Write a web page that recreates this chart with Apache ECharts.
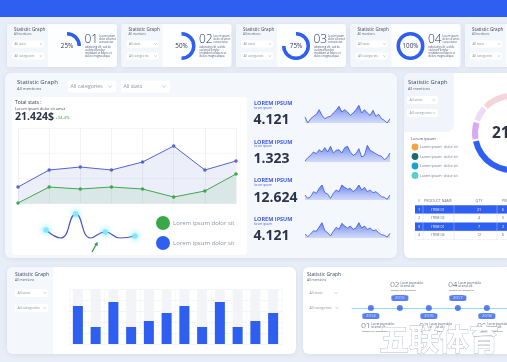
<!DOCTYPE html>
<html><head><meta charset="utf-8">
<script src="https://cdn.jsdelivr.net/npm/echarts@6/dist/echarts.min.js"></script>
<style>html,body{margin:0;padding:0;background:#e8eef7;overflow:hidden}#c{width:507px;height:362px}</style>
</head><body><div id="c"></div>
<script>
// ---------- data ----------
const cardPercents = [25, 50, 75, 100];
const cardNumbers = ['01', '02', '03', '04'];
const lineCategories = ['A', 'B', 'C', 'D', 'E', 'F', 'G', 'H'];
const blueValues = [16, 33, 36, 33, 41, 57, 33, 42];
const greenValues = [0, 16, 14, 16, 14, 6, 12, 29];
const waveValues = [10, 2, 26, 2, 8, 2, 4];
const waveMarked = [true, false, true, false, true, false, true];
const legendNames = ['Lorem ipsum dolor sit', 'Lorem ipsum dolor sit'];
const sparkTitles = ['4.121', '1.323', '12.624', '4.121'];
const spark1 = [18,0,13,20,26,40,23,13,18,20,30,38,50,33,40,33,23,30,40,53,30,40,30,23,38,20,26,13,8,0,13];
const spark2 = [3,13,20,30,25,37,30,43,30,47,27,35,37,27,43,47,30,20,25,40,15,20,50,35,30,25,20,17,7,13,27];
const spark3 = [15,5,10,25,20,35,45,22,18,5,20,30,25,45,38,32,35,25,32,45,30,38,25,30,22,25,18,10,8,2,15];
const spark4 = [12,4,12,22,20,33,46,22,16,6,20,32,26,44,36,30,36,26,30,46,30,36,26,30,22,24,16,10,8,3,14];
const donutValues = [28, 24, 120, 174];
const donutColors = ['#d8aaf3', '#ecdcf7', '#f4d5dc', '#2f5ff0'];
const donutCenterText = '21';
const listColors = ['#f4a43c', '#1b6a6e', '#19a2cf', '#58cfc7'];
const listLabels = ['Lorem ipsum · dolor sit', 'Lorem ipsum · dolor sit', 'Lorem ipsum · dolor sit', 'Lorem ipsum · dolor sit'];
const tableHeader = ['#', 'PRODUCT NAME', 'QTY', 'PRICE'];
const tableRows = [['1', 'ITEM 01', '21', '6'], ['2', 'ITEM 02', '4', '5'], ['3', 'ITEM 01', '7', '2'], ['4', 'ITEM 04', '12', '6']];
const barCategories = ['1','2','3','4','5','6','7','8','9','10','11','12'];
const barValues = [38, 17, 42, 17, 23, 31, 38, 17, 42, 17, 23, 31];
const barMax = 55;
const years = [2014, 2015, 2016, 2017, 2018];
const milestones = ['01', '02', '03', '04', '01'];

// ---------- helpers ----------
const FONT = 'Open Sans';
const BLUE = '#2f5ff0';
const G = [];
const SH = {shadowBlur: 5, shadowColor: 'rgba(60,80,140,0.10)', shadowOffsetY: 1};
function rect(x, y, w, h, fill, r, extra) {
  G.push({type: 'rect', silent: true, shape: {x, y, width: w, height: h, r: r || 0}, style: Object.assign({fill}, extra || {})});
}
function txtEl(x, y, s, size, color, o) {
  o = o || {};
  return {type: 'text', x, y, silent: true, z: o.z || 0, style: {
    text: s, fontSize: size, fill: color, fontFamily: o.family || FONT, fontWeight: o.weight || 'normal',
    align: o.align || 'left', verticalAlign: o.va || 'middle', lineHeight: o.lh, stroke: o.stroke, lineWidth: o.lw || 0}};
}
function txt(x, y, s, size, color, o) { G.push(txtEl(x, y, s, size, color, o)); }
function chevron(cx, cy, s, color) {
  G.push({type: 'polyline', silent: true, shape: {points: [[cx - s, cy - s / 2], [cx, cy + s / 2], [cx + s, cy - s / 2]]},
    style: {stroke: color, lineWidth: 0.6, fill: null}});
}
function line(x1, y1, x2, y2, color, w) {
  G.push({type: 'line', silent: true, shape: {x1, y1, x2, y2}, style: {stroke: color, lineWidth: w || 0.5}});
}
function dropdown(x, y, w, h, label, size, chevX) {
  rect(x, y, w, h, '#ffffff', 2);
  txt(x + 2.5, y + h / 2, label, size, '#8a93a6');
  chevron(chevX, y + h / 2, size * 0.35, '#9aa2b3');
}

// ---------- static panels ----------
rect(0, 0, 507, 17, BLUE);

const cardX = [7, 121.5, 236, 350.5, 465];
const tinyA = 'Lorem ipsum\ndolor sit amet\nconsectetur';
const tinyB = 'adipiscing elit, sed do\neiusmod tempor\nincididunt ut labore et\ndolore magna aliqua';
cardX.forEach((x0, i) => {
  rect(x0, 24, 110, 43, '#fdfeff', 3, SH);
  rect(x0, 24, 41, 43, '#f3f6fb', [3, 0, 0, 3]);
  txt(x0 + 7, 29.5, 'Statistic Graph', 4.6, '#3b4660');
  txt(x0 + 7, 34, 'All mentions', 3, '#5a6478');
  dropdown(x0 + 5, 40.5, 32, 7, 'All stats', 3.2, x0 + 34);
  dropdown(x0 + 5, 52.5, 32, 7, 'All categories', 3.2, x0 + 34);
  if (i < 4) {
    txt(x0 + 77.5, 40, cardNumbers[i], 12, '#2b3550', {weight: 300});
    txt(x0 + 92, 39, tinyA, 2.6, '#4a5570', {lh: 2.9});
    txt(x0 + 78, 51.5, tinyB, 2.6, '#4a5570', {lh: 3});
  }
});

// main panel
rect(5, 73, 392, 185, '#f4f7fc', 6, SH);
rect(12, 97, 235, 158, '#ffffff', 4);
txt(17, 82, 'Statistic Graph', 6, '#3a4560');
txt(17, 89, 'All mentions', 4.2, '#5a6478');
dropdown(68, 80.5, 48, 12, 'All categories', 5.2, 110);
dropdown(121, 80.5, 49, 12, 'All stats', 5.2, 164);
txt(15, 103, 'Total stats :', 5, '#2f3648');
txt(15, 109, 'Lorem ipsum dolor sit amet', 3.9, '#3f475a');
txt(15, 117.5, '21.424$', 10.5, '#2b3448', {weight: 'bold'});
txt(55, 118, '+34.4%', 4.3, '#3aa64a');

// legend circles
const legendColors = ['#3aa84a', BLUE];
legendNames.forEach((n, i) => {
  G.push({type: 'circle', silent: true, shape: {cx: 163, cy: 223 + i * 20, r: 7}, style: {fill: legendColors[i]}});
  txt(173, 223 + i * 20, n, 6, '#8a93a6');
});
// green arrow
G.push({type: 'polyline', silent: true, shape: {points: [[92, 252], [95.8, 245.3]]}, style: {stroke: '#2a9a4a', lineWidth: 1.3, fill: null}});
G.push({type: 'polygon', silent: true, shape: {points: [[97.7, 241.8], [94.2, 244.3], [97.5, 246.2]]}, style: {fill: '#2a9a4a'}});

// sparkline texts
sparkTitles.forEach((t, i) => {
  const y = 103.3 + i * 38.7;
  txt(254, y, 'LOREM IPSUM', 5.5, '#3d5ae6', {weight: 'bold'});
  txt(254, y + 4.5, 'lorem ipsum', 3, '#3d5ae6');
  txt(253.5, y + 17, t, 14, '#2b3448', {weight: 'bold'});
});

// right panel
rect(404, 73, 110, 185, '#ffffff', 6, SH);
rect(404, 73, 50, 59, '#f1f4fa', [6, 0, 8, 0]);
txt(408, 82, 'Statistic Graph', 5.8, '#3a4560');
txt(408, 88.5, 'All mentions', 3.8, '#5a6478');
dropdown(407, 96, 31, 8, 'All stats', 3.6, 434);
dropdown(407, 109, 31, 8, 'All categories', 3.6, 434);
txt(492, 133.5, donutCenterText, 15.5, '#2b3448', {weight: 'bold'});
txt(411, 139, 'Lorem ipsum', 4, '#3f475a');
listLabels.forEach((l, i) => {
  const y = 147 + i * 9.5;
  G.push({type: 'circle', silent: true, shape: {cx: 415, cy: y, r: 3.4}, style: {fill: listColors[i]}});
  txt(420, y, l, 3.5, '#6a7386');
});
// table
const colX = [419, 438, 479, 502];
tableHeader.forEach((h, j) => txt(colX[j], 201, h, 3.6, '#6b7386', {align: j === 3 ? 'left' : 'center'}));
tableRows.forEach((r, i) => {
  const y = 205.3 + i * 8.6;
  const blueRow = i % 2 === 0;
  rect(415, y, 95, 8.4, blueRow ? BLUE : '#ffffff', 0, blueRow ? {} : {stroke: '#e3e7ee', lineWidth: 0.5});
  r.forEach((c, j) => txt(colX[j], y + 4.3, c, 3.6, blueRow ? '#ffffff' : '#5a6478', {align: j === 3 ? 'left' : 'center'}));
});
[423, 454, 497].forEach(x => line(x, 205.3, x, 239.7, 'rgba(205,212,226,0.8)', 0.5));

// bottom-left panel
rect(7, 267, 289, 87, '#ffffff', 6, SH);
rect(7, 267, 46, 87, '#f4f7fb', [6, 0, 0, 6]);
txt(15, 275, 'Statistic Graph', 5, '#3a4560');
txt(15, 280.5, 'All mentions', 3.3, '#5a6478');
dropdown(15, 289, 33, 8, 'All stats', 3.6, 45);
dropdown(15, 304, 33, 8, 'All categories', 3.6, 45);

// bottom-right panel
rect(303, 267, 210, 87, '#ffffff', 6, SH);
txt(307, 275, 'Statistic Graph', 5, '#3a4560');
txt(307, 280.5, 'All mentions', 3.3, '#5a6478');
dropdown(307, 289, 33, 8, 'All stats', 3.6, 336);
dropdown(307, 304, 33, 8, 'All categories', 3.6, 337);

// ---------- charts ----------
const sparks = [spark1, spark2, spark3, spark4];
const sparkTops = [103, 142, 180, 218];
const TL_LEFT = 352, TL_WIDTH = 155, TL_MIN = 2013.35, TL_STEP = 29;
const grids = [
  {left: 18, top: 128, width: 218, height: 75},
  ...sparkTops.map(t => ({left: 305, top: t, width: 85, height: 20})),
  {left: 46, top: 212, width: 89, height: 28},
  {left: 69, top: 289, width: 213, height: 55},
  {left: TL_LEFT, top: 270, width: TL_WIDTH, height: 92}
];
const hid = {show: false};
const xAxes = [
  {gridIndex: 0, type: 'category', data: lineCategories, boundaryGap: false,
   axisLine: {lineStyle: {color: '#e3e7ee'}}, axisTick: hid, axisLabel: hid,
   splitLine: {show: true, lineStyle: {color: '#e6e9ef', width: 0.6}}},
  ...sparks.map((s, i) => ({gridIndex: i + 1, type: 'category', data: s.map((_, k) => k), boundaryGap: false, show: false})),
  {gridIndex: 5, type: 'category', data: waveValues.map((_, k) => k), boundaryGap: false, show: false},
  {gridIndex: 6, type: 'category', data: barCategories, axisLine: hid, axisTick: hid, axisLabel: hid,
   splitLine: {show: true, lineStyle: {color: '#f1f3f6', width: 0.6}}},
  {gridIndex: 7, type: 'value', min: TL_MIN, max: TL_MIN + TL_WIDTH / TL_STEP,
   axisLine: {show: true, onZero: true, lineStyle: {color: '#93d9ef', width: 1.2}},
   axisTick: hid, axisLabel: hid, splitLine: hid}
];
const yAxes = [
  {gridIndex: 0, type: 'value', min: 0, max: 75, interval: 25, axisLine: hid, axisTick: hid, axisLabel: hid,
   splitLine: {lineStyle: {color: '#f0f2f6', width: 0.6}}},
  ...sparks.map((s, i) => ({gridIndex: i + 1, type: 'value', min: 0, max: 60, show: false})),
  {gridIndex: 5, type: 'value', min: 0, max: 28, show: false},
  {gridIndex: 6, type: 'value', min: 0, max: barMax, interval: 11, axisLine: hid, axisTick: hid, axisLabel: hid,
   splitLine: {lineStyle: {color: '#eceff3', width: 0.6}}},
  {gridIndex: 7, type: 'value', min: -54, max: 38, show: false}
];

const series = [];
// card donuts
cardPercents.forEach((p, i) => {
  series.push({type: 'pie', silent: true, center: [cardX[i] + 60, 46], radius: [10.5, 14], startAngle: 90,
    label: {show: false}, labelLine: {show: false}, emphasis: {disabled: true},
    data: [
      {value: p, itemStyle: {color: BLUE},
       label: {show: true, position: 'center', formatter: p + '%', fontSize: 6.3, color: '#2b3550', fontFamily: FONT}},
      {value: 100 - p, itemStyle: {color: 'rgba(0,0,0,0)'}}
    ]});
});
// line chart
series.push({type: 'line', xAxisIndex: 0, yAxisIndex: 0, data: blueValues, symbol: 'circle', symbolSize: 3.5,
  lineStyle: {color: '#5563cf', width: 1}, itemStyle: {color: '#5563cf'}, areaStyle: {color: 'rgba(96,112,214,0.17)'}, silent: true});
series.push({type: 'line', xAxisIndex: 0, yAxisIndex: 0, data: greenValues, symbol: 'circle', symbolSize: 3.5,
  lineStyle: {color: '#40a74f', width: 1}, itemStyle: {color: '#40a74f'}, areaStyle: {color: 'rgba(110,195,130,0.22)'}, silent: true});
// sparklines
sparks.forEach((s, i) => {
  series.push({type: 'line', xAxisIndex: i + 1, yAxisIndex: i + 1, data: s, symbol: 'none', silent: true,
    lineStyle: {color: '#3a55e0', width: 0.8},
    areaStyle: {color: new echarts.graphic.LinearGradient(0, 0, 0, 1, [
      {offset: 0, color: 'rgba(48,78,232,1)'}, {offset: 1, color: 'rgba(140,164,246,0.5)'}])}});
});
// wave
series.push({type: 'line', xAxisIndex: 5, yAxisIndex: 5, data: waveValues, smooth: 0.5, silent: true, showAllSymbol: true,
  symbol: 'circle', symbolSize: (v, p) => waveMarked[p.dataIndex] ? 5.5 : 0,
  lineStyle: {color: '#4a55c0', width: 1.2},
  itemStyle: {color: '#7fe9f9', shadowBlur: 6, shadowColor: '#36d6ef'}});
// bars
series.push({type: 'bar', xAxisIndex: 6, yAxisIndex: 6, data: barValues, barWidth: 10, silent: true,
  showBackground: true, backgroundStyle: {color: '#f3f4f7'}, itemStyle: {color: BLUE}});
// big donut
series.push({type: 'pie', silent: true, center: [512, 133], radius: [34, 40], startAngle: 191, padAngle: 3.5,
  label: {show: false}, labelLine: {show: false}, emphasis: {disabled: true},
  data: donutValues.map((v, i) => ({value: v, itemStyle: {color: donutColors[i]}}))});
// timeline
series.push({type: 'scatter', xAxisIndex: 7, yAxisIndex: 7, silent: true, symbolSize: 6, itemStyle: {color: BLUE}, z: 4,
  data: years.concat([2019]).map(y => [y, 0]), clip: false});
series.push({type: 'scatter', xAxisIndex: 7, yAxisIndex: 7, silent: true, symbol: 'roundRect', symbolSize: [17, 6],
  itemStyle: {color: BLUE}, z: 4,
  label: {show: true, position: 'inside', formatter: p => String(p.value[0]), color: '#ffffff', fontSize: 4.2, fontFamily: FONT},
  data: years.map((y, i) => [y, i % 2 ? 10 : -8])});

const chart = echarts.init(document.getElementById('c'), null, {renderer: 'canvas', width: 507, height: 362});
chart.setOption({
  backgroundColor: '#e8eef7',
  animation: false,
  textStyle: {fontFamily: FONT},
  graphic: {elements: G},
  grid: grids,
  xAxis: xAxes,
  yAxis: yAxes,
  series
});

// milestone labels placed through the timeline axis scale
const extra = [];
years.forEach((y, i) => {
  const v = i % 2 ? 23 : -18;
  const pt = chart.convertToPixel({gridIndex: 7}, [y, v]);
  extra.push(txtEl(pt[0] - 5, pt[1], milestones[i], 8, '#2b3550', {weight: 300, align: 'center'}));
  extra.push(txtEl(pt[0] + 0.5, pt[1] - 0.3, 'Lorem ipsum dolor\nsit amet elit', 2.6, '#4a5570', {lh: 3}));
  extra.push(txtEl(pt[0] - 9, pt[1] + 5, 'consectetur adipiscing', 2.4, '#4a5570'));
});
// watermark on top
extra.push(txtEl(439, 339, '五联体育', 30, '#ffffff', {family: 'Noto Sans CJK SC', weight: 'bold', align: 'center', stroke: '#b4bac6', lw: 0.9, z: 100}));
chart.setOption({graphic: {elements: G.concat(extra)}});
</script></body></html>
